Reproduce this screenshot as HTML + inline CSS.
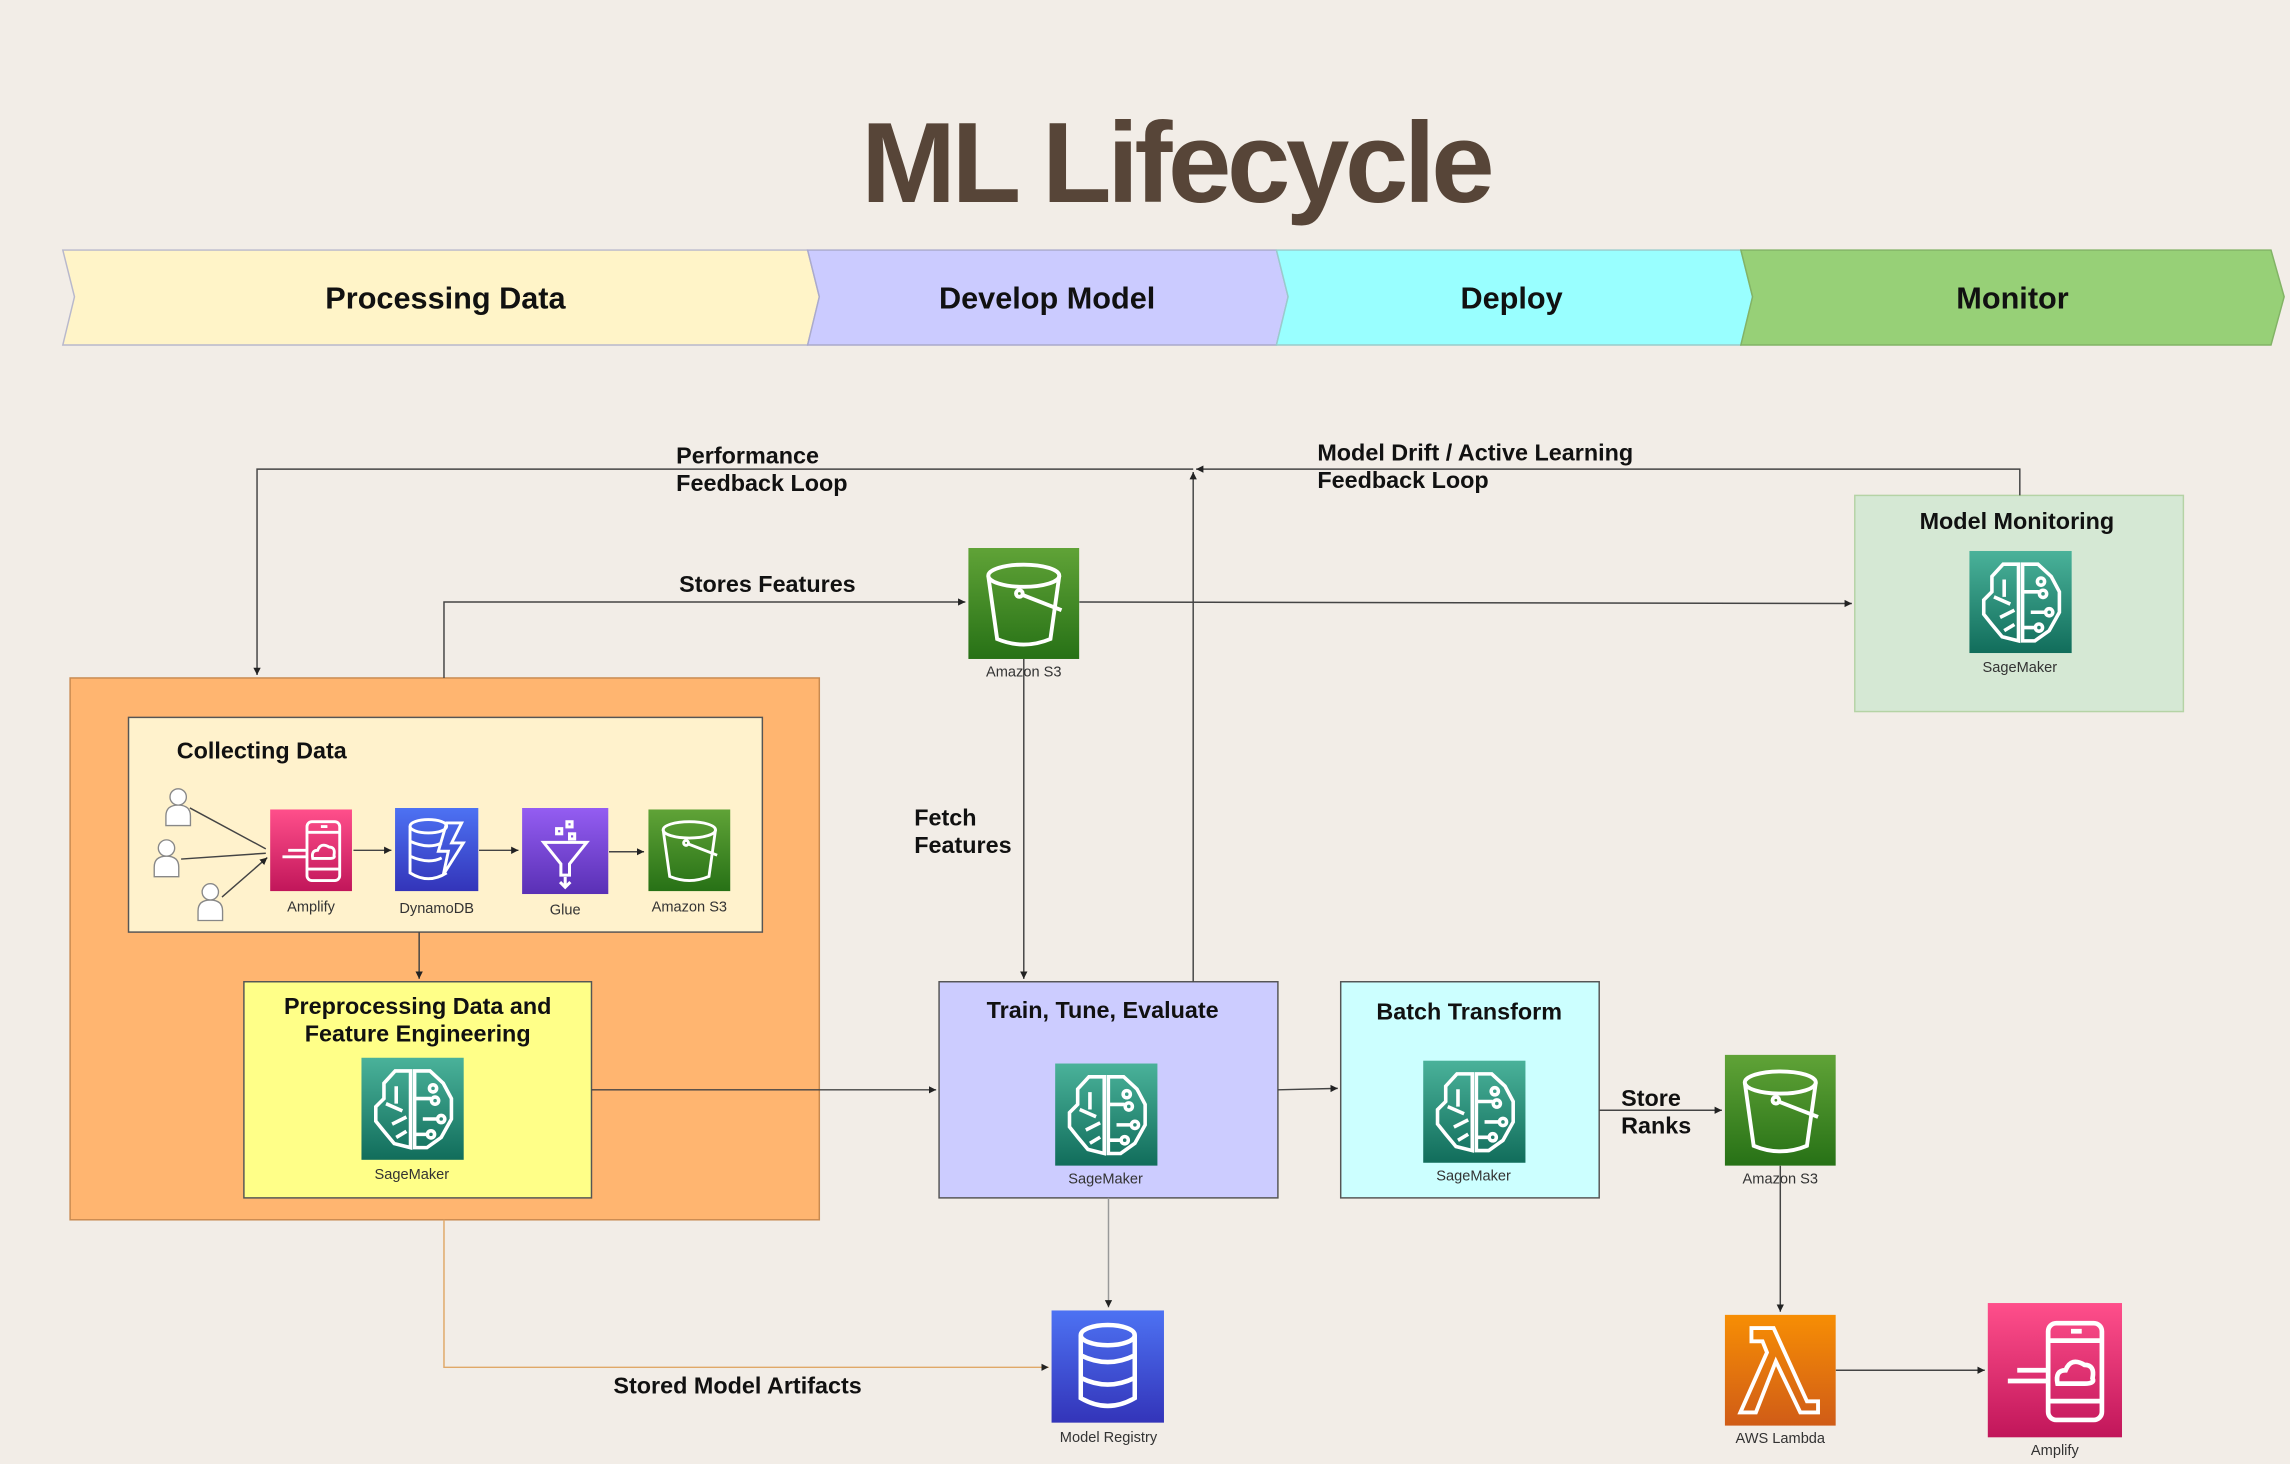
<!DOCTYPE html>
<html><head><meta charset="utf-8"><style>
html,body{margin:0;padding:0;background:#f2ede7;}
svg{display:block;}
text{font-family:"Liberation Sans",Arial,sans-serif;}
.b{font-weight:bold;fill:#111;font-size:16px;}
.l{fill:#333;font-size:10px;text-anchor:middle;}
.ln{stroke:#444;stroke-width:1;fill:none;}
</style></head><body>
<svg width="2290" height="1464" viewBox="0 0 1568 1002" xmlns="http://www.w3.org/2000/svg">
<defs>
<marker id="a" markerWidth="6" markerHeight="6" refX="5" refY="3" orient="auto"><path d="M0,0.5 L5,3 L0,5.5z" fill="#222"/></marker>
<marker id="ao" markerWidth="6" markerHeight="6" refX="5" refY="3" orient="auto"><path d="M0,0.5 L5,3 L0,5.5z" fill="#222"/></marker>
<linearGradient id="gS3" x1="0" y1="0" x2="0" y2="1"><stop offset="0" stop-color="#60a337"/><stop offset="1" stop-color="#277116"/></linearGradient>
<linearGradient id="gSM" x1="0" y1="0" x2="0" y2="1"><stop offset="0" stop-color="#4ab29a"/><stop offset="1" stop-color="#116d5b"/></linearGradient>
<linearGradient id="gAM" x1="0" y1="0" x2="0" y2="1"><stop offset="0" stop-color="#ff4f8b"/><stop offset="1" stop-color="#c1165a"/></linearGradient>
<linearGradient id="gDB" x1="0" y1="0" x2="0" y2="1"><stop offset="0" stop-color="#4d72f3"/><stop offset="1" stop-color="#3334b9"/></linearGradient>
<linearGradient id="gGL" x1="0" y1="0" x2="0" y2="1"><stop offset="0" stop-color="#945df2"/><stop offset="1" stop-color="#5a30b5"/></linearGradient>
<linearGradient id="gLA" x1="0" y1="0" x2="0" y2="1"><stop offset="0" stop-color="#f78e04"/><stop offset="1" stop-color="#d05c17"/></linearGradient>
<symbol id="s3" viewBox="0 0 100 100"><rect width="100" height="100" fill="url(#gS3)"/><g fill="none" stroke="#fff" stroke-width="3.5"><ellipse cx="50" cy="25" rx="32" ry="10"/><path d="M18 25 L26 82 Q50 92 74 82 L82 25"/><path d="M48 42 L84 56" /><circle cx="46" cy="41" r="3"/></g></symbol>
<symbol id="sm" viewBox="0 0 100 100"><rect width="100" height="100" fill="url(#gSM)"/><g fill="none" stroke="#fff" stroke-width="3.5"><path d="M48 13 L33 13 L22 25 L22 40 L14 48 L14 62 L22 72 L32 84 L48 88 Z"/><path d="M52 13 L67 13 L80 25 L88 40 L88 60 L78 78 L64 88 L52 88 Z"/><path d="M34 28 L34 45 M24 45 L40 52 M30 65 L44 58 M34 78 L44 72 M52 40 L68 40 M60 60 L75 60 M52 75 L65 75"/><circle cx="70" cy="30" r="3.5"/><circle cx="72" cy="42" r="3.5"/><circle cx="78" cy="60" r="3.5"/><circle cx="68" cy="75" r="3.5"/></g></symbol>
<symbol id="am" viewBox="0 0 100 100"><rect width="100" height="100" fill="url(#gAM)"/><g fill="none" stroke="#fff" stroke-width="3.5"><rect x="45" y="15" width="40" height="72" rx="6"/><path d="M45 73 L85 73 M45 28 L85 28 M62 21 L70 21"/><path d="M15 58 L45 58 M22 50 L45 50"/><path d="M52 60 Q50 50 58 50 Q62 40 72 46 Q80 46 78 56 Q80 60 72 60 Z"/></g></symbol>
<symbol id="db" viewBox="0 0 100 100"><rect width="100" height="100" fill="url(#gDB)"/><g fill="none" stroke="#fff" stroke-width="3.5"><ellipse cx="40" cy="22" rx="22" ry="8"/><path d="M18 22 L18 78 Q40 92 62 78 M18 40 Q40 50 56 42 M18 58 Q40 68 56 60"/><path d="M62 18 L80 18 L68 42 L82 42 L58 80 L64 52 L52 52 Z"/></g></symbol>
<symbol id="gl" viewBox="0 0 100 100"><rect width="100" height="100" fill="url(#gGL)"/><g fill="none" stroke="#fff" stroke-width="3.5"><path d="M25 40 L75 40 L55 65 L55 78 L45 78 L45 65 Z"/><rect x="40" y="24" width="6" height="6"/><rect x="52" y="16" width="6" height="6"/><rect x="55" y="30" width="6" height="6"/><path d="M50 80 L50 92 M44 86 L50 92 L56 86"/></g></symbol>
<symbol id="la" viewBox="0 0 100 100"><rect width="100" height="100" fill="url(#gLA)"/><path d="M24 12 L44 12 L74 78 L84 78 L84 88 L68 88 L46 42 L28 88 L14 88 L38 34 L34 24 L24 24 Z" fill="none" stroke="#fff" stroke-width="3.5"/></symbol>
<symbol id="dbr" viewBox="0 0 100 100"><rect width="100" height="100" fill="url(#gDB)"/><g fill="none" stroke="#fff" stroke-width="4"><ellipse cx="50" cy="22" rx="24" ry="9"/><path d="M26 22 L26 78 Q50 92 74 78 L74 22 M26 40 Q50 52 74 40 M26 60 Q50 72 74 60"/></g></symbol>
<symbol id="user" viewBox="0 0 20 30"><circle cx="10" cy="8" r="6" fill="#fff" stroke="#888"/><path d="M1 29 L1 22 Q1 14 10 14 Q19 14 19 22 L19 29 Z" fill="#fff" stroke="#888"/></symbol>
</defs>
<rect width="1568" height="1002" fill="#f2ede7"/>
<text x="805" y="138" font-size="78" font-weight="bold" fill="#574538" text-anchor="middle" letter-spacing="-3">ML Lifecycle</text>
<path d="M43 171 L553 171 L561 203 L553 236 L43 236 L51 203 Z" fill="#fff4c8" stroke="#b8b8cc"/>
<path d="M553 171 L874 171 L882 203 L874 236 L553 236 L561 203 Z" fill="#cbcbff" stroke="#aaaacc"/>
<path d="M874 171 L1192 171 L1200 203 L1192 236 L874 236 L882 203 Z" fill="#99ffff" stroke="#99cccc"/>
<path d="M1192 171 L1555 171 L1564 203 L1555 236 L1192 236 L1200 203 Z" fill="#97d077" stroke="#82b366"/>
<g font-weight="bold" font-size="21" fill="#111" text-anchor="middle">
<text x="305" y="211">Processing Data</text><text x="717" y="211">Develop Model</text><text x="1035" y="211">Deploy</text><text x="1378" y="211">Monitor</text></g>
<rect x="48" y="464" width="513" height="371" fill="#ffb570" stroke="#c88a50"/>
<rect x="88" y="491" width="434" height="147" fill="#fff2cc" stroke="#555"/>
<rect x="167" y="672" width="238" height="148" fill="#ffff88" stroke="#555"/>
<rect x="643" y="672" width="232" height="148" fill="#ccccff" stroke="#555"/>
<rect x="918" y="672" width="177" height="148" fill="#ccffff" stroke="#555"/>
<rect x="1270" y="339" width="225" height="148" fill="#d5e8d4" stroke="#b5d3a5"/>
<g class="b">
<text x="121" y="519">Collecting Data</text>
<text x="286" y="694" text-anchor="middle">Preprocessing Data and</text>
<text x="286" y="713" text-anchor="middle">Feature Engineering</text>
<text x="755" y="697" text-anchor="middle">Train, Tune, Evaluate</text>
<text x="1006" y="698" text-anchor="middle">Batch Transform</text>
<text x="1381" y="362" text-anchor="middle">Model Monitoring</text>
<text x="463" y="317">Performance</text><text x="463" y="336">Feedback Loop</text>
<text x="902" y="315">Model Drift / Active Learning</text><text x="902" y="334">Feedback Loop</text>
<text x="465" y="405">Stores Features</text>
<text x="626" y="565">Fetch</text><text x="626" y="584">Features</text>
<text x="1110" y="757">Store</text><text x="1110" y="776">Ranks</text>
<text x="420" y="954">Stored Model Artifacts</text>
</g>
<path class="ln" d="M1383 339 L1383 321 L819 321" marker-end="url(#a)"/>
<path class="ln" d="M817 672 L817 323" marker-end="url(#a)"/>
<path class="ln" d="M817 321 L176 321 L176 462" marker-end="url(#a)"/>
<path class="ln" d="M304 464 L304 412 L661 412" marker-end="url(#a)"/>
<path class="ln" d="M739 412 L1268 413" marker-end="url(#a)"/>
<path class="ln" d="M701 451 L701 670" marker-end="url(#a)"/>
<path class="ln" d="M287 638 L287 670" marker-end="url(#a)"/>
<path class="ln" d="M405 746 L641 746" marker-end="url(#a)"/>
<path class="ln" d="M875 746 L916 745" marker-end="url(#a)"/>
<path class="ln" d="M1095 760 L1179 760" marker-end="url(#a)"/>
<path class="ln" d="M1219 798 L1219 898" marker-end="url(#a)"/>
<path class="ln" d="M1257 938 L1359 938" marker-end="url(#a)"/>
<path d="M759 820 L759 895" stroke="#999" fill="none" marker-end="url(#a)"/>
<path d="M304 835 L304 936 L718 936" stroke="#e0a868" fill="none" marker-end="url(#ao)"/>
<path class="ln" d="M130 553 L182 581 M124 588 L182 584 M152 614 L183 587" marker-end="url(#a)"/>
<path class="ln" d="M242 582 L268 582" marker-end="url(#a)"/>
<path class="ln" d="M328 582 L355 582" marker-end="url(#a)"/>
<path class="ln" d="M417 583 L441 583" marker-end="url(#a)"/>
<use href="#user" x="112" y="538" width="20" height="28"/>
<use href="#user" x="104" y="573" width="20" height="28"/>
<use href="#user" x="134" y="603" width="20" height="28"/>
<use href="#am" x="184" y="554" width="58" height="56"/><text class="l" x="213" y="624">Amplify</text>
<use href="#db" x="270" y="553" width="58" height="57"/><text class="l" x="299" y="625">DynamoDB</text>
<use href="#gl" x="357" y="553" width="60" height="59"/><text class="l" x="387" y="626">Glue</text>
<use href="#s3" x="443" y="554" width="58" height="56"/><text class="l" x="472" y="624">Amazon S3</text>
<use href="#sm" x="247" y="724" width="71" height="70"/><text class="l" x="282" y="807">SageMaker</text>
<use href="#sm" x="722" y="728" width="71" height="70"/><text class="l" x="757" y="810">SageMaker</text>
<use href="#sm" x="974" y="726" width="71" height="70"/><text class="l" x="1009" y="808">SageMaker</text>
<use href="#sm" x="1348" y="377" width="71" height="70"/><text class="l" x="1383" y="460">SageMaker</text>
<use href="#s3" x="663" y="375" width="76" height="76"/><text class="l" x="701" y="463">Amazon S3</text>
<use href="#s3" x="1181" y="722" width="76" height="76"/><text class="l" x="1219" y="810">Amazon S3</text>
<use href="#dbr" x="720" y="897" width="77" height="77"/><text class="l" x="759" y="987">Model Registry</text>
<use href="#la" x="1181" y="900" width="76" height="76"/><text class="l" x="1219" y="988">AWS Lambda</text>
<use href="#am" x="1361" y="892" width="92" height="92"/><text class="l" x="1407" y="996">Amplify</text>
</svg>
</body></html>
